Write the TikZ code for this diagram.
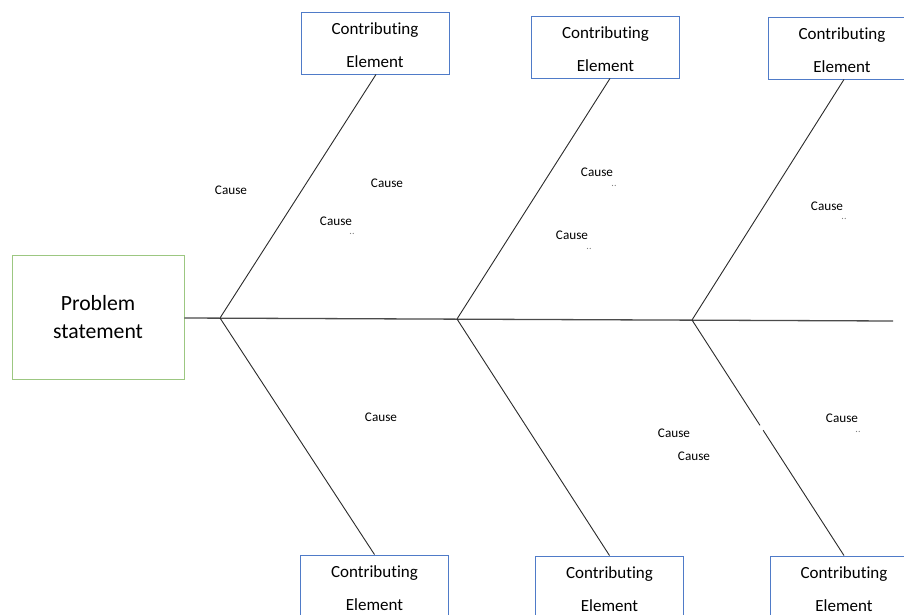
\documentclass[tikz,border=0pt]{standalone}
\usepackage{fontspec}
\setmainfont{Carlito}[Ligatures=NoCommon]
\usetikzlibrary{calc}
\definecolor{boxblue}{HTML}{4F7BC8}
\definecolor{boxgreen}{HTML}{9CC781}
\definecolor{bone}{HTML}{2B2B2B}
\definecolor{dotgray}{HTML}{7A7A7A}
\tikzset{
  elemtext/.style={align=center, inner sep=0pt, yshift=-2pt,
    font=\fontsize{17pt}{33pt}\selectfont},
  elembox/.style={draw=boxblue, line width=0.9pt, fill=white, minimum width=148pt,
    minimum height=62pt, inner sep=0pt,
    label={[elemtext]center:{Contributing\\Element}}},
  probbox/.style={draw=boxgreen, line width=0.9pt, fill=white, minimum width=172pt,
    minimum height=124pt, inner sep=0pt, align=center,
    font=\fontsize{21.7pt}{28pt}\selectfont},
  causelbl/.style={inner sep=0pt, font=\fontsize{13.2pt}{15pt}\selectfont},
  dots/.style={inner sep=0pt, text height=1.4pt, text depth=0pt, text=dotgray,
    font=\fontsize{10pt}{10pt}\selectfont},
  boneline/.style={draw=bone, line width=0.9pt},
  spineline/.style={draw=bone!85, line width=1.3pt}
}
\begin{document}
\begin{tikzpicture}[x=1pt, y=-1pt]
  \useasboundingbox[fill=white] (0,0) rectangle (904,615);

  % head of the fish
  \node[probbox] (prob) at (98,317) {Problem\\statement};

  % spine and its joints
  \coordinate (tail) at (893,321);
  \coordinate (j1) at (220,318);
  \coordinate (j2) at (457,319);
  \coordinate (j3) at (692,320);
  \draw[spineline] (prob.east |- j1) -- (tail);

  % contributing elements above and below the spine
  \node[elembox] (t1) at (375,43) {};
  \node[elembox] (t2) at (605.5,47) {};
  \node[elembox] (t3) at (842,48) {};
  \node[elembox] (b1) at (374.5,586) {};
  \node[elembox] (b2) at (609.5,587) {};
  \node[elembox] (b3) at (844,587) {};

  % bones
  \draw[boneline] (j1) -- (t1.south -| 376,0);
  \draw[boneline] (j2) -- (t2.south -| 610,0);
  \draw[boneline] (j3) -- (t3.south -| 844,0);
  \draw[boneline] (j1) -- (b1.north);
  \draw[boneline] (j2) -- (b2.north);
  \draw[boneline] (j3) -- ($(j3)!0.447!(b3.north)$);
  \draw[boneline] ($(j3)!0.468!(b3.north)$) -- (b3.north);

  % causes
  \node[causelbl] (c1) at (231,190) {Cause};
  \node[causelbl] (c2) at (387,183) {Cause};
  \node[causelbl] (c3) at (336,221) {Cause};
  \node[dots] (d3) at (352,233.5) {..};
  \node[causelbl] (c4) at (597,172) {Cause};
  \node[dots] (d4) at (614,185.5) {..};
  \node[causelbl] (c5) at (572,235) {Cause};
  \node[dots] (d5) at (589,248.5) {..};
  \node[causelbl] (c6) at (827,206) {Cause};
  \node[dots] (d6) at (844,218.5) {..};
  \node[causelbl] (c7) at (381,417) {Cause};
  \node[causelbl] (c8) at (674,433) {Cause};
  \node[causelbl] (c9) at (694,456) {Cause};
  \node[causelbl] (c10) at (842,418) {Cause};
  \node[dots] (d10) at (858,432) {..};
\end{tikzpicture}
\end{document}
